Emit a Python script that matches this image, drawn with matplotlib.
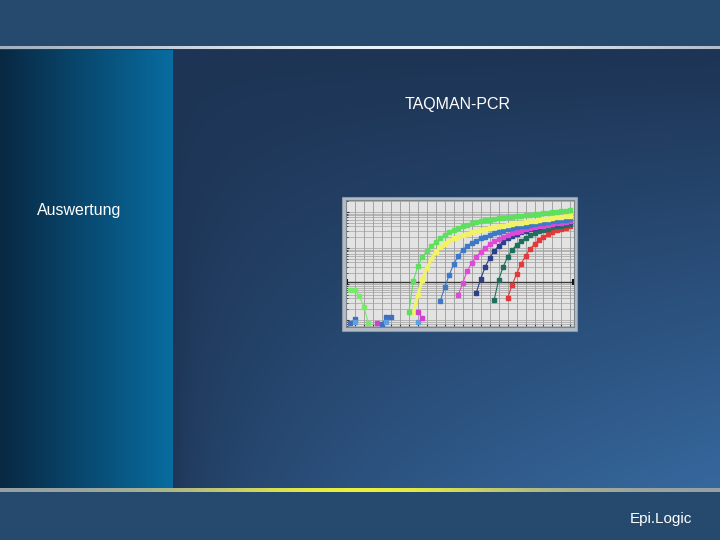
import matplotlib
matplotlib.use("Agg")
import matplotlib.pyplot as plt
from matplotlib.patches import Rectangle
import numpy as np

# slide texts
title_text = "TAQMAN-PCR"
side_text = "Auswertung"
logo_text = "Epi.Logic"

# amplification curves: first cycle and fluorescence (dRn) per cycle
green_start = 14
green_vals = [0.00167, 0.0121, 0.0316, 0.0562, 0.0826, 0.114, 0.147, 0.190, 0.230, 0.270,
              0.316, 0.359, 0.395, 0.435, 0.480, 0.518, 0.555, 0.581, 0.607, 0.635,
              0.664, 0.690, 0.718, 0.745, 0.769, 0.794, 0.815, 0.841, 0.869, 0.898,
              0.927, 0.957, 0.987, 1.02, 1.05, 1.09, 1.12]
green_early_start = 1
green_early_vals = [0.0068, 0.0068, 0.0046, 0.0023, 0.00083]

yellow_start = 15
yellow_vals = [0.00156, 0.00494, 0.0129, 0.0278, 0.0494, 0.0774, 0.107, 0.133, 0.161, 0.184,
               0.202, 0.222, 0.245, 0.270, 0.291, 0.312, 0.333, 0.352, 0.373, 0.395,
               0.416, 0.438, 0.461, 0.482, 0.504, 0.527, 0.552, 0.577, 0.600, 0.627,
               0.652, 0.678, 0.703, 0.731, 0.760, 0.783]

blue_start = 21
blue_vals = [0.00337, 0.00826, 0.0178, 0.0360, 0.0600, 0.0880, 0.114, 0.138, 0.161, 0.186,
             0.208, 0.230, 0.253, 0.278, 0.303, 0.327, 0.350, 0.373, 0.395, 0.419,
             0.441, 0.464, 0.485, 0.508, 0.527, 0.548, 0.570, 0.592, 0.611, 0.631]

magenta_start = 25
magenta_vals = [0.00494, 0.0107, 0.0230, 0.0383, 0.0562, 0.0774, 0.100, 0.125, 0.152, 0.178,
                0.202, 0.227, 0.253, 0.278, 0.303, 0.327, 0.350, 0.373, 0.395, 0.419,
                0.441, 0.464, 0.485, 0.508, 0.527, 0.548]

navy_start = 29
navy_vals = [0.00562, 0.0138, 0.0297, 0.0527, 0.0826, 0.114, 0.147, 0.184, 0.215, 0.245,
             0.273, 0.301, 0.327, 0.352, 0.379, 0.404, 0.428, 0.450, 0.470, 0.492,
             0.511, 0.531]

teal_start = 33
teal_vals = [0.00360, 0.0129, 0.0297, 0.0562, 0.0880, 0.121, 0.156, 0.190, 0.222, 0.256,
             0.287, 0.316, 0.344, 0.371, 0.395, 0.419, 0.441, 0.464]

red_start = 36
red_vals = [0.00409, 0.00938, 0.0190, 0.0360, 0.0600, 0.0938, 0.129, 0.167, 0.202, 0.237,
            0.273, 0.306, 0.337, 0.369, 0.398]

# scattered background points near the floor
noise_blue_cyc = [1, 2]
noise_blue_vals = [0.00083, 0.00107]
noise_blue2_cyc = [8, 9, 10]
noise_blue2_vals = [0.00077, 0.00121, 0.00121]
noise_lblue_cyc = [2, 9, 16]
noise_lblue_vals = [0.00088, 0.00088, 0.00088]
noise_mag_cyc = [7]
noise_mag_vals = [0.00083]
noise_mag2_cyc = [16, 17]
noise_mag2_vals = [0.00167, 0.00114]

threshold = 0.0114

# ---- slide background ----
H, W = 540, 720
yy, xx = np.mgrid[0:H, 0:W].astype(float)
img = np.zeros((H, W, 3))
band = np.array([38, 74, 110]) / 255.0
img[:] = band

dark = np.array([29, 52, 84]) / 255.0
light = np.array([54, 104, 158]) / 255.0
xf = np.clip((xx - 173) / 547.0, 0, 1)
yf = np.clip((yy - 50) / 438.0, 0, 1)
w = (yf * np.sqrt(xf))[..., None]
main = dark * (1 - w) + light * w

lp0 = np.array([8, 40, 66]) / 255.0
lp1 = np.array([9, 108, 160]) / 255.0
t = np.clip(xx / 172.0, 0, 1)[..., None]
left = lp0 * (1 - t) + lp1 * t

inside = (yy >= 50) & (yy < 488)
img[inside & (xx >= 173)] = main[inside & (xx >= 173)]
img[inside & (xx < 173)] = left[inside & (xx < 173)]

# top separator line
g = np.exp(-((xx - 400) / 330.0) ** 2)[..., None]
top_line = np.array([140, 155, 170]) / 255.0 * (1 - g) + np.array([235, 242, 250]) / 255.0 * g
sel = (yy >= 46) & (yy < 49)
img[sel] = top_line[sel]
img[(yy >= 49) & (yy < 50)] = np.array([40, 55, 70]) / 255.0

# bottom separator line with yellow glow
g2 = np.exp(-((xx - 360) / 170.0) ** 2)[..., None]
bot_line = np.array([150, 160, 165]) / 255.0 * (1 - g2) + np.array([235, 240, 60]) / 255.0 * g2
sel = (yy >= 488) & (yy < 492)
img[sel] = bot_line[sel]

fig = plt.figure(figsize=(7.2, 5.4), dpi=100)
bg = fig.add_axes([0, 0, 1, 1])
bg.imshow(img, extent=(0, W, H, 0), aspect="auto", interpolation="bilinear")
bg.set_xlim(0, W)
bg.set_ylim(H, 0)
bg.axis("off")

# chart frame
bg.add_patch(Rectangle((342, 197), 235, 134, facecolor="#b3bdc7", edgecolor="#8d98a3", lw=0.8))

fig.text(458 / W, 1 - 104 / H, title_text, color="white", fontsize=11.5,
         family="Liberation Sans", ha="center", va="center")
fig.text(37 / W, 1 - 210 / H, side_text, color="white", fontsize=11.5,
         family="Liberation Sans", ha="left", va="center")
fig.text(692 / W, 1 - 519 / H, logo_text, color="white", fontsize=11,
         family="Liberation Sans", ha="right", va="center")

# ---- amplification plot ----
ax = fig.add_axes([346 / W, 1 - 327 / H, 228 / W, 127 / H])
ax.set_facecolor("#e3e3e3")
ax.set_yscale("log")
ax.set_xlim(0, 50.8)
ax.set_ylim(10 ** -3.19, 10 ** 0.33)
ax.set_xticks(np.arange(0, 51, 2))
ax.grid(True, which="major", axis="x", color="#9a9a9a", lw=0.6)
ax.grid(True, which="both", axis="y", color="#a2a2a2", lw=0.5)
ax.tick_params(which="both", direction="in", length=2, color="#333333",
               labelbottom=False, labelleft=False)
ax.tick_params(which="minor", length=1.5)
for s in ax.spines.values():
    s.set_color("#7d858d")
    s.set_linewidth(0.8)

ax.axhline(threshold, color="#3a3a3a", lw=1.0)
ax.plot([0.3, 50.5], [threshold, threshold], ls="none", marker="|", ms=5, mew=1.5, color="#111111")


def curve(start, vals, color, ms=2.5, lw=0.8):
    x = np.arange(start, start + len(vals))
    ax.plot(x, vals, color=color, lw=lw, marker="s", ms=ms, mec=color, mfc=color)


curve(red_start, red_vals, "#e03a3a")
curve(teal_start, teal_vals, "#1f6f5c")
curve(navy_start, navy_vals, "#2c3f8c")
curve(magenta_start, magenta_vals, "#e048d8")
curve(blue_start, blue_vals, "#3e78c8")
curve(yellow_start, yellow_vals, "#f2f266", ms=3.0, lw=2.2)
curve(green_start, green_vals, "#5ee05e")
curve(green_early_start, green_early_vals, "#7ae86a")

ax.plot(noise_blue_cyc, noise_blue_vals, color="#3e6fc0", lw=0.8, marker="s", ms=2.5)
ax.plot(noise_blue2_cyc, noise_blue2_vals, color="#3e6fc0", lw=0.8, marker="s", ms=2.5)
ax.plot(noise_lblue_cyc, noise_lblue_vals, ls="none", color="#5fa0e0", marker="s", ms=2.5)
ax.plot(noise_mag_cyc, noise_mag_vals, ls="none", color="#d040d0", marker="s", ms=2.5)
ax.plot(noise_mag2_cyc, noise_mag2_vals, color="#d040d0", lw=0.8, marker="s", ms=2.5)

fig.savefig("out.png", dpi=100)
